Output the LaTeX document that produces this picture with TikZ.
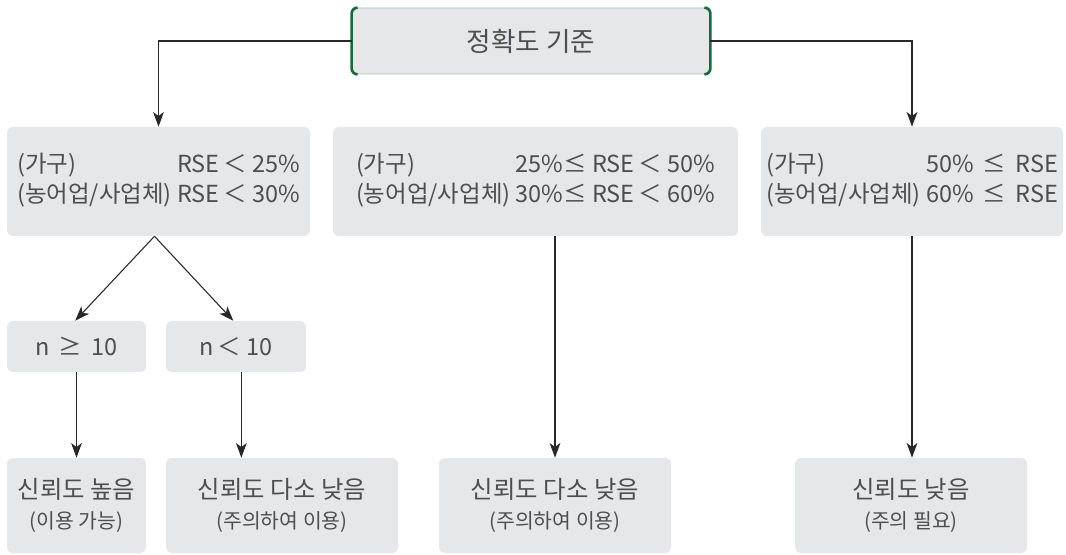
\documentclass[tikz,border=0pt]{standalone}
\usepackage{fontspec}
\setmainfont{Noto Sans CJK KR}
\usepackage{xcolor}
\definecolor{boxgrey}{RGB}{230,231,232}
\definecolor{txtgrey}{RGB}{78,78,78}
\definecolor{lngrey}{RGB}{40,40,40}
\definecolor{bordgrey}{RGB}{170,190,180}
\definecolor{brgreen}{RGB}{18,108,62}
\usetikzlibrary{arrows.meta}
\usetikzlibrary{calc}
\tikzset{
  gbox/.style={fill=boxgrey,rounded corners=4.5pt,inner sep=0pt,text=txtgrey,align=center},
  sz/.style 2 args={minimum width=#1*0.75pt,minimum height=#2*0.75pt},
  conn/.style={draw=lngrey,line width=0.8pt,-{Stealth[length=11pt,width=8pt,inset=3pt]}},
  crit/.style={font=\fontsize{17.6}{23}\selectfont},
  verdict/.style={font=\fontsize{18.3}{23}\selectfont},
}
\newcommand{\subnote}[1]{{\fontsize{15.3}{18}\selectfont #1}}

\begin{document}
\begin{tikzpicture}[x=0.75pt,y=-0.75pt]
\useasboundingbox (0,0) rectangle (1066,555);
\node[gbox,draw=bordgrey,line width=0.6pt,sz={358}{66},font=\fontsize{20}{24}\selectfont] (top) at (531,41) {정확도 기준};
\draw[brgreen,line width=2pt,rounded corners=4.5pt] ([xshift=4.5pt]top.north west) -- (top.north west) -- (top.south west) -- ([xshift=4.5pt]top.south west);
\draw[brgreen,line width=2pt,rounded corners=4.5pt] ([xshift=-4.5pt]top.north east) -- (top.north east) -- (top.south east) -- ([xshift=-4.5pt]top.south east);

\node[gbox,sz={303}{109},crit] (A) at (158.5,181.5) {\begin{tabular}{@{}l@{ }r@{}}(가구) & RSE\,＜ 25\%\\(농어업/사업체) & RSE\,＜ 30\%\end{tabular}};
\node[gbox,sz={405}{109},crit] (B) at (535.5,181.5) {\begin{tabular}{@{}l@{ }r@{}}(가구) & 25\%≤ RSE\,＜ 50\%\\(농어업/사업체) & 30\%≤ RSE\,＜ 60\%\end{tabular}};
\node[gbox,sz={302}{109},crit] (C) at (912,181.5) {\begin{tabular}{@{}l@{ }r@{}}(가구) & 50\% \,≤\, RSE\\(농어업/사업체) & 60\% \,≤\, RSE\end{tabular}};

\node[gbox,sz={139}{51},crit] (n1) at (76.5,346.5) {n \,≥\, 10};
\node[gbox,sz={140}{51},crit] (n2) at (236,346.5) {n\,＜ 10};

\node[gbox,sz={139}{95},verdict] (L1) at (76.5,505.5) {신뢰도 높음\\\subnote{(이용 가능)}};
\node[gbox,sz={232}{95},verdict] (L2) at (282,505.5) {신뢰도 다소 낮음\\\subnote{(주의하여 이용)}};
\node[gbox,sz={232}{95},verdict] (L3) at (555,505.5) {신뢰도 다소 낮음\\\subnote{(주의하여 이용)}};
\node[gbox,sz={232}{95},verdict] (L4) at (911,505.5) {신뢰도 낮음\\\subnote{(주의 필요)}};

\draw[conn] (top.west) -| (A.north);
\draw[conn] (top.east) -| (C.north);
\draw[conn] ([xshift=-3pt]A.south) -- ([xshift=-1pt]n1.north);
\draw[conn] ([xshift=-3pt]A.south) -- ([xshift=-2pt]n2.north);
\draw[conn] (n1.south) -- (n1.south |- L1.north);
\draw[conn] ([xshift=4pt]n2.south) -- ([xshift=4pt]n2.south |- L2.north);
\draw[conn] (L3.north |- B.south) -- (L3.north);
\draw[conn] (C.south) -- (C.south |- L4.north);
\end{tikzpicture}
\end{document}
